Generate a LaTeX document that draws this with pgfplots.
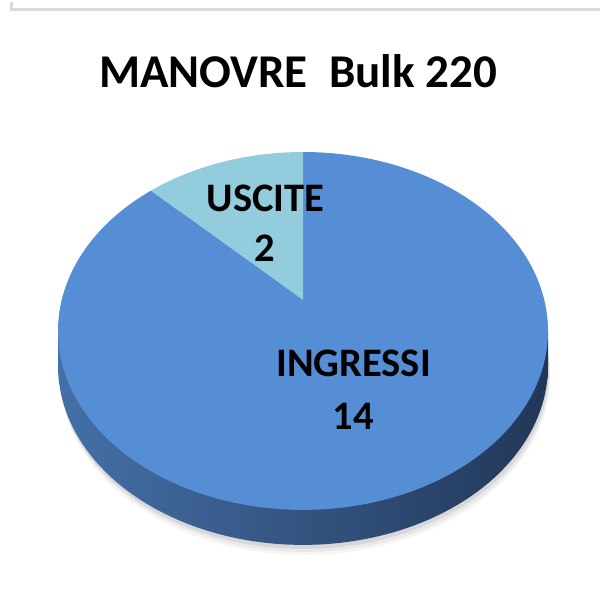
\documentclass[border=0pt]{standalone}
\usepackage{fontspec}
\setmainfont{Carlito}
\usepackage{pgfplots}
\usepackage{pgfplotstable}
\pgfplotsset{compat=1.18}
\definecolor{topblue}{HTML}{558ED5}
\definecolor{lightblue}{HTML}{93CDDD}
\definecolor{sideL}{HTML}{4470A8}
\definecolor{sideM}{HTML}{2C4A74}
\definecolor{sideR}{HTML}{223757}
\definecolor{framegray}{HTML}{D9D9D9}
\pgfplotstableread{
label value
USCITE 2
INGRESSI 14
}\piedata
\pgfplotstablegetelem{0}{value}\of\piedata%
\let\vU\pgfplotsretval%
\pgfplotstablegetelem{1}{value}\of\piedata%
\let\vI\pgfplotsretval%
\pgfmathsetmacro{\aStart}{90}%
\pgfmathsetmacro{\aMid}{90+360*\vU/(\vU+\vI)}%
\pgfmathsetmacro{\aEnd}{90+360}%
\begin{document}%
\begin{tikzpicture}
\begin{axis}[width=602pt,height=606pt,scale only axis,hide axis,
  xmin=0,xmax=602,ymin=0,ymax=606,clip=false,
  samples=241, variable=\t,
  declare function={px(\a)=303+241.3*cos(\a)/(1+0.173*sin(\a));
                    py(\a)=306+173.6*sin(\a)/(1+0.173*sin(\a));}]
% picture extent
\addplot[draw=none, mark=none] coordinates {(0,0) (602,606)};
% chart frame (top and left edges)
\addplot[framegray, line width=2.5pt] coordinates {(11.5,604) (11.5,596.5) (600,596.5)};
% soft shadow
\addplot[draw=none, fill=black, fill opacity=0.04, domain=0:360] ({px(\t)+2},{py(\t)-35-10});
\addplot[draw=none, fill=black, fill opacity=0.05, domain=0:360] ({px(\t)+2},{py(\t)-35-7});
\addplot[draw=none, fill=black, fill opacity=0.08, domain=0:360] ({px(\t)+1},{py(\t)-35-4});
% side of the pie
\addplot[draw=none, left color=sideL, middle color=sideM, right color=sideR, domain=0:360] ({px(\t)},{py(\t)-35});
\addplot[draw=none, left color=sideL, middle color=sideM, right color=sideR] coordinates {(58,275) (548,275) (548,240) (58,240)} -- cycle;
% top faces
\addplot[draw=none, fill=topblue, domain=\aMid:\aEnd] ({px(\t)},{py(\t)}) -- (axis cs:303,306) -- cycle;
\addplot[draw=none, fill=lightblue, domain=\aStart:\aMid] ({px(\t)},{py(\t)}) -- (axis cs:303,306) -- cycle;
% labels
\node[anchor=base, font=\fontsize{47}{50}\selectfont\bfseries] at (axis cs:298,518.5) {MANOVRE\ \ Bulk 220};
\node[anchor=base, font=\fontsize{40.5}{42}\selectfont\bfseries] at (axis cs:265.5,394) {USCITE};
\node[anchor=base, font=\fontsize{40.5}{42}\selectfont\bfseries] at (axis cs:265,344) {2};
\node[anchor=base, font=\fontsize{40.5}{42}\selectfont\bfseries] at (axis cs:353.5,229) {INGRESSI};
\node[anchor=base, font=\fontsize{40.5}{42}\selectfont\bfseries] at (axis cs:353,176) {14};
\end{axis}
\end{tikzpicture}%
\end{document}
